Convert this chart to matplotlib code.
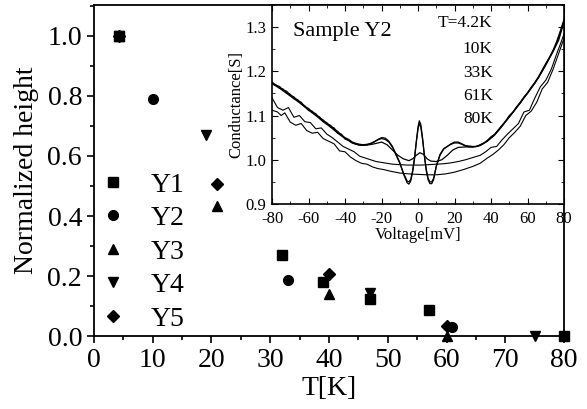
import matplotlib
matplotlib.use('Agg')
import matplotlib.pyplot as plt
from matplotlib.ticker import MultipleLocator

plt.rcParams['font.family'] = ['Liberation Serif', 'DejaVu Serif']
plt.rcParams['axes.unicode_minus'] = False

# Normalized peak height vs temperature
t_y1 = [4.2, 32, 39, 47, 57, 80]
h_y1 = [1.0, 0.27, 0.18, 0.125, 0.088, 0.0]
t_y2 = [4.2, 10, 33, 61]
h_y2 = [1.0, 0.79, 0.187, 0.03]
t_y3 = [4.2, 21, 40, 60]
h_y3 = [1.0, 0.433, 0.14, 0.0]
t_y4 = [4.2, 19, 47, 75]
h_y4 = [1.0, 0.67, 0.145, 0.0]
t_y5 = [4.2, 21, 40, 60]
h_y5 = [1.0, 0.507, 0.206, 0.035]

# Inset: conductance curves of sample Y2
v_4k = [-80, -78, -76, -74, -72, -70, -68, -66, -64, -62, -60, -58, -56, -54, -52, -50,
        -48, -46, -44, -42, -40, -38, -36, -34, -32, -30, -28, -26, -24, -22, -20, -18,
        -16, -14, -12, -10, -8, -6, -5, -4, -3, -2, -1, 0, 0.7, 1.5, 2.5, 3.5, 4.5, 5.5,
        6.5, 7.5, 8.5, 10, 12, 14, 16, 18, 20, 22, 24, 26, 28, 30, 32, 34, 36, 38, 40,
        42, 44, 46, 48, 50, 52, 54, 56, 58, 60, 62, 64, 66, 68, 70, 72, 74, 76, 78, 80]
g_4k = [1.176, 1.168, 1.166, 1.158, 1.155, 1.146, 1.142, 1.134, 1.130, 1.120, 1.116, 1.108,
        1.104, 1.095, 1.090, 1.082, 1.078, 1.070, 1.064, 1.056, 1.050, 1.046, 1.040, 1.037,
        1.035, 1.034, 1.035, 1.036, 1.040, 1.046, 1.050, 1.049, 1.042, 1.030, 1.012, 0.994,
        0.968, 0.948, 0.945, 0.952, 0.972, 1.000, 1.040, 1.075, 1.088, 1.080, 1.048, 1.008,
        0.975, 0.955, 0.946, 0.946, 0.955, 0.985, 1.012, 1.025, 1.030, 1.036, 1.040, 1.040,
        1.036, 1.032, 1.031, 1.030, 1.030, 1.034, 1.038, 1.044, 1.052, 1.058, 1.068, 1.078,
        1.088, 1.100, 1.108, 1.120, 1.130, 1.142, 1.152, 1.164, 1.175, 1.188, 1.203, 1.218,
        1.232, 1.248, 1.268, 1.292, 1.318]
g_10k = [1.172, 1.170, 1.162, 1.160, 1.151, 1.148, 1.138, 1.136, 1.126, 1.122, 1.112, 1.110,
         1.100, 1.097, 1.087, 1.084, 1.074, 1.072, 1.060, 1.058, 1.047, 1.044, 1.038, 1.035,
         1.033, 1.033, 1.034, 1.037, 1.041, 1.045, 1.048, 1.046, 1.040, 1.028, 1.010, 0.992,
         0.970, 0.952, 0.950, 0.956, 0.975, 1.002, 1.038, 1.070, 1.082, 1.074, 1.045, 1.008,
         0.978, 0.958, 0.950, 0.950, 0.958, 0.986, 1.010, 1.024, 1.030, 1.035, 1.038, 1.038,
         1.035, 1.031, 1.029, 1.029, 1.030, 1.033, 1.037, 1.043, 1.050, 1.057, 1.066, 1.076,
         1.087, 1.097, 1.107, 1.118, 1.128, 1.140, 1.150, 1.162, 1.173, 1.186, 1.200, 1.215,
         1.230, 1.246, 1.265, 1.288, 1.314]
v_33k = [-80, -76, -72, -68, -64, -60, -56, -52, -48, -44, -40, -36, -32, -28, -24, -20,
         -17, -14, -11, -8, -5, -3, -1, 1, 3, 5, 7, 10, 13, 16, 19, 22, 26, 30, 34, 38,
         42, 46, 50, 54, 58, 62, 66, 70, 74, 77, 80]
g_33k = [1.172, 1.162, 1.150, 1.138, 1.126, 1.112, 1.100, 1.086, 1.074, 1.060, 1.048, 1.038,
         1.033, 1.033, 1.036, 1.040, 1.034, 1.022, 1.010, 1.002, 0.998, 1.002, 1.010, 1.016,
         1.012, 1.002, 0.997, 0.996, 1.000, 1.010, 1.022, 1.028, 1.029, 1.029, 1.032, 1.042,
         1.056, 1.076, 1.097, 1.118, 1.140, 1.162, 1.186, 1.215, 1.245, 1.270, 1.312]
v_61k = [-80, -77, -74, -71, -68, -65, -62, -59, -56, -53, -50, -47, -44, -41, -38, -35,
         -32, -29, -26, -23, -20, -17, -14, -10, -6, -2, 2, 6, 10, 14, 18, 22, 26, 30, 34,
         37, 40, 43, 46, 49, 52, 55, 58, 61, 64, 67, 70, 73, 76, 78, 80]
g_61k = [1.140, 1.118, 1.112, 1.118, 1.096, 1.100, 1.086, 1.084, 1.070, 1.072, 1.058, 1.050,
         1.040, 1.030, 1.024, 1.018, 1.008, 1.004, 1.000, 0.996, 0.994, 0.992, 0.990, 0.989,
         0.988, 0.988, 0.988, 0.989, 0.990, 0.991, 0.993, 0.996, 1.000, 1.005, 1.010, 1.018,
         1.028, 1.030, 1.045, 1.058, 1.070, 1.082, 1.108, 1.112, 1.140, 1.165, 1.180, 1.205,
         1.240, 1.262, 1.285]
v_80k = [-80, -77, -75, -73, -70, -67, -64, -61, -58, -55, -52, -49, -46, -43, -40, -37,
         -34, -31, -28, -25, -22, -19, -15, -10, -5, 0, 5, 10, 15, 20, 25, 30, 34, 38, 41,
         44, 47, 50, 53, 56, 59, 62, 65, 68, 71, 74, 77, 80]
g_80k = [1.112, 1.108, 1.100, 1.106, 1.085, 1.078, 1.082, 1.066, 1.060, 1.062, 1.048, 1.042,
         1.036, 1.020, 1.018, 1.006, 0.998, 0.992, 0.990, 0.984, 0.980, 0.978, 0.974, 0.970,
         0.968, 0.967, 0.966, 0.966, 0.968, 0.972, 0.978, 0.985, 0.992, 1.004, 1.012, 1.022,
         1.034, 1.050, 1.062, 1.076, 1.100, 1.110, 1.130, 1.160, 1.175, 1.205, 1.240, 1.275]
temp_labels = ['T=4.2K', '10K', '33K', '61K', '80K']

fig = plt.figure(figsize=(5.87, 4.09), dpi=100)
ax = fig.add_axes([0.160, 0.178, 0.801, 0.810])

series = [(t_y1, h_y1, 's', 'Y1'), (t_y2, h_y2, 'o', 'Y2'), (t_y3, h_y3, '^', 'Y3'),
          (t_y4, h_y4, 'v', 'Y4'), (t_y5, h_y5, 'D', 'Y5')]
for t, h, m, lab in series:
    ms = 6 if m == 'D' else 7
    ax.plot(t, h, linestyle='none', marker=m, ms=ms, color='black', label=lab, clip_on=False)

ax.set_xlim(0, 80)
ax.set_ylim(0, 1.103)
ax.xaxis.set_major_locator(MultipleLocator(10))
ax.xaxis.set_minor_locator(MultipleLocator(5))
ax.yaxis.set_major_locator(MultipleLocator(0.2))
ax.yaxis.set_minor_locator(MultipleLocator(0.1))
ax.yaxis.set_major_formatter(plt.FormatStrFormatter('%.1f'))
ax.tick_params(which='both', direction='out', labelsize=20, width=1.2)
ax.tick_params(which='major', length=5)
ax.tick_params(which='minor', length=3)
for s in ax.spines.values():
    s.set_linewidth(1.3)
ax.set_xlabel('T[K]', fontsize=20, labelpad=2)
ax.set_ylabel('Normalized height', fontsize=20, labelpad=6)

ax.legend(loc='upper left', bbox_to_anchor=(0.011, 0.495), frameon=False, fontsize=20,
          handlelength=1.0, handletextpad=0.85, labelspacing=0.29, borderpad=0,
          borderaxespad=0)

# inset
ins = fig.add_axes([0.4634, 0.5012, 0.4976, 0.4868])
ins.set_facecolor('white')
ins.plot(v_4k, g_4k, color='black', lw=0.9)
ins.plot(v_4k, g_10k, color='black', lw=0.9)
ins.plot(v_33k, g_33k, color='black', lw=0.9)
ins.plot(v_61k, g_61k, color='black', lw=0.8)
ins.plot(v_80k, g_80k, color='black', lw=0.8)
ins.set_xlim(-80, 80)
ins.set_ylim(0.9, 1.35)
ins.xaxis.set_major_locator(MultipleLocator(20))
ins.xaxis.set_minor_locator(MultipleLocator(10))
ins.yaxis.set_major_locator(MultipleLocator(0.1))
ins.yaxis.set_minor_locator(MultipleLocator(0.05))
ins.yaxis.set_major_formatter(plt.FormatStrFormatter('%.1f'))
ins.tick_params(which='both', direction='in', top=True, right=True, labelsize=12)
ins.tick_params(axis='x', pad=5)
ins.tick_params(axis='y', pad=4)
ins.tick_params(which='major', length=4)
ins.tick_params(which='minor', length=2)
for s in ins.spines.values():
    s.set_linewidth(1.2)
ins.set_xlabel('Voltage[mV]', fontsize=12, labelpad=0)
ins.set_ylabel('Conductance[S]', fontsize=12, labelpad=1)
ins.text(-68.5, 1.289, 'Sample Y2', fontsize=16, va='center', ha='left')
label_y = [1.309, 1.251, 1.197, 1.145, 1.093]
for lab, yy in zip(temp_labels, label_y):
    ins.text(41, yy, lab, fontsize=12.5, ha='right', va='center')

fig.savefig('out.png', dpi=100)
